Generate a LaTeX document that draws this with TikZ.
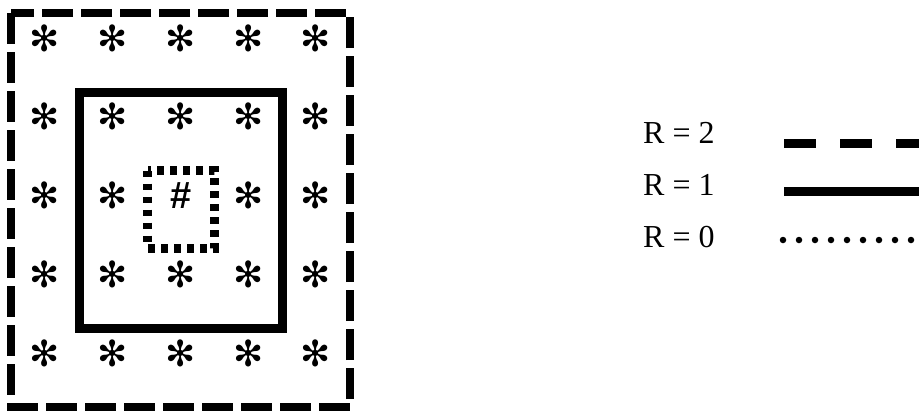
\documentclass[tikz,border=0pt]{standalone}
\usepackage{fontspec}
\setmainfont{Liberation Serif}
\newfontfamily\starfont{DejaVu Sans}
\newfontfamily\hashfont{Liberation Sans}
\usetikzlibrary{positioning}

\begin{document}
\begin{tikzpicture}[x=1pt, y=-1pt]
    \useasboundingbox (0,0) rectangle (919,410);
    % the three windows
    \draw[line width=8.5pt, dash pattern=on 31pt off 8pt] (11,13) rectangle (350,407);
    \draw[line width=9pt] (79.5,92) rectangle (282.5,328);
    \draw[line width=9pt, dash pattern=on 6.5pt off 6.5pt] (147.5,170.5) rectangle (214.5,248);
    % cells
    \foreach \i in {0,...,4}
        \foreach \j in {0,...,4} {
            \pgfmathtruncatemacro\mid{(\i==2)&&(\j==2)}
            \ifnum\mid=0
                \node[font=\starfont\fontsize{36}{36}\selectfont, inner sep=0] (cell\i\j) at ({45+67.75*\i},{38+78.75*\j}) {✻};
            \fi
        }
    \node[font=\hashfont\bfseries\fontsize{38}{38}\selectfont, inner sep=0] (centre) at (181,196) {\#};
    % legend
    \node[font=\fontsize{32}{38}\selectfont, anchor=base west, inner sep=0] (rtwo) at (643,143) {R = 2};
    \node[font=\fontsize{32}{38}\selectfont, anchor=base west, inner sep=0] (rone) at (643,195) {R = 1};
    \node[font=\fontsize{32}{38}\selectfont, anchor=base west, inner sep=0] (rzero) at (643,247) {R = 0};
    \coordinate (twoA) at (784,143.5);
    \coordinate (twoB) at (919,143.5);
    \coordinate (oneA) at (784,191.5);
    \coordinate (oneB) at (919,191.5);
    \coordinate (zeroA) at (783,240);
    \coordinate (zeroB) at (919,240);
    \draw[line width=8.5pt, dash pattern=on 32pt off 24pt] (twoA) -- (twoB);
    \draw[line width=9pt] (oneA) -- (oneB);
    \draw[line width=6.5pt, line cap=round, dash pattern=on 0pt off 16pt] (zeroA) -- (zeroB);
\end{tikzpicture}
\end{document}
